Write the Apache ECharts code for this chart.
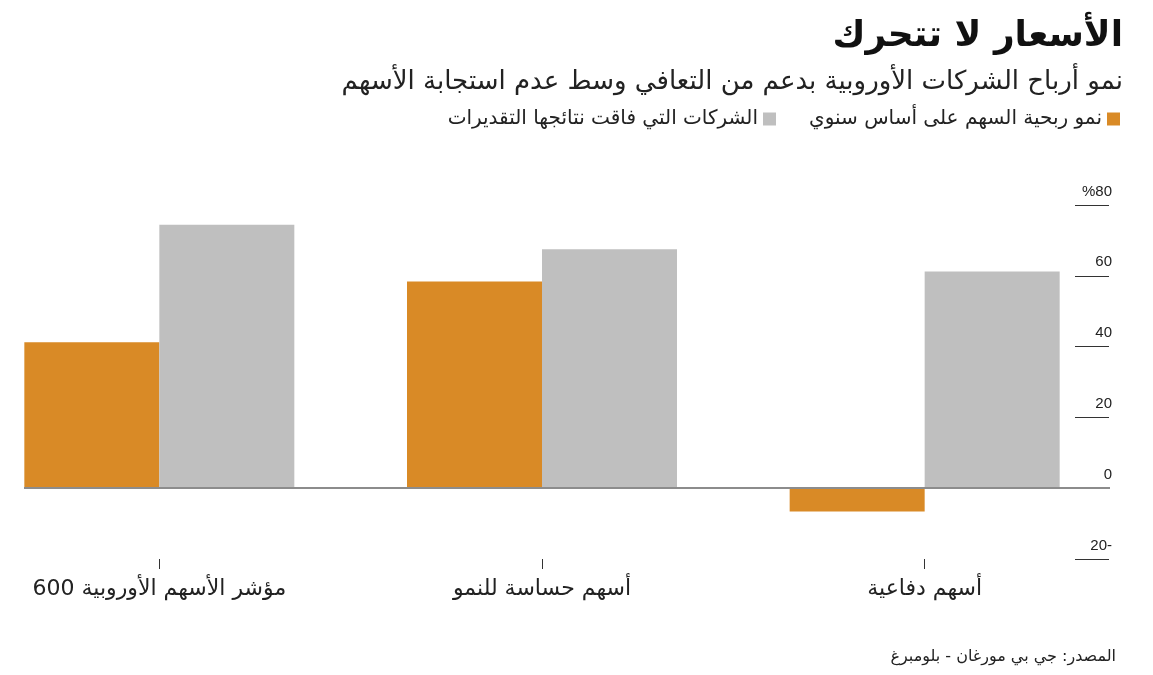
<!DOCTYPE html>
<html>
<head>
<meta charset="utf-8">
<script src="https://cdn.jsdelivr.net/npm/echarts@6/dist/echarts.min.js"></script>
<style>html,body{margin:0;padding:0;background:#fff;}#c{width:1153px;height:675px;}</style>
</head>
<body>
<div id="c"></div>
<script>
const titleText = 'الأسعار لا تتحرك';
const subtitleText = 'نمو أرباح الشركات الأوروبية بدعم من التعافي وسط عدم استجابة الأسهم';
const sourceText = 'المصدر: جي بي مورغان - بلومبرغ';
const categories = ['مؤشر الأسهم الأوروبية 600', 'أسهم حساسة للنمو', 'أسهم دفاعية'];
const seriesNames = ['نمو ربحية السهم على أساس سنوي', 'الشركات التي فاقت نتائجها التقديرات'];
const epsGrowth = [41.2, 58.4, -6.6];
const beatShare = [74.4, 67.5, 61.2];
const yTickValues = [-20, 0, 20, 40, 60, 80];
const yTickText = ['20-', '0', '20', '40', '60', '%80'];

const AR = "'DejaVu Sans', 'Noto Sans', sans-serif";
const NUM = "'Liberation Sans', Arial, sans-serif";
const ORANGE = '#D98A26';
const GRAY = '#BFBFBF';

const chart = echarts.init(document.getElementById('c'), null, {renderer: 'canvas'});
chart.setOption({
  animation: false,
  backgroundColor: '#fff',
  title: [
    {text: titleText, right: 25, top: 14, textStyle: {fontFamily: AR, fontSize: 36, fontWeight: 'bold', color: '#111'}},
    {text: subtitleText, right: 25, top: 64, textStyle: {fontFamily: AR, fontSize: 26, fontWeight: 'normal', color: '#222'}},
    {text: sourceText, right: 32, top: 644, textStyle: {fontFamily: AR, fontSize: 16, fontWeight: 'normal', color: '#222'}}
  ],
  legend: {
    data: [seriesNames[1], seriesNames[0]],
    right: 28, top: 104,
    align: 'right',
    icon: 'rect', itemWidth: 13, itemHeight: 13, itemGap: 33,
    textStyle: {fontFamily: AR, fontSize: 20, color: '#222'}
  },
  grid: {left: -32, right: 37, top: 205, bottom: 116, outerBoundsMode: 'none', containLabel: false},
  xAxis: {
    type: 'category',
    data: categories,
    axisLine: {show: false, onZero: false},
    axisTick: {show: true, alignWithLabel: true, length: 10, lineStyle: {color: '#333', width: 1}},
    axisLabel: {fontFamily: AR, fontSize: 22, color: '#222', margin: 19}
  },
  yAxis: {
    type: 'value', position: 'right', offset: -7,
    min: -20, max: 80, interval: 20,
    splitLine: {show: false},
    axisLine: {show: false},
    axisTick: {show: true, inside: true, length: 34, lineStyle: {color: '#333', width: 1}},
    axisLabel: {show: false}
  },
  series: [
    {
      name: seriesNames[0], type: 'bar', data: epsGrowth, barWidth: 135, barGap: '0%',
      itemStyle: {color: ORANGE},
      markLine: {
        silent: true, symbol: 'none', label: {show: false},
        lineStyle: {color: '#8c8c8c', width: 2, type: 'solid'},
        data: [[{x: 24, yAxis: 0}, {x: 1110, yAxis: 0}]]
      }
    },
    {
      name: seriesNames[1], type: 'bar', data: beatShare, barWidth: 135, barGap: '0%',
      itemStyle: {color: GRAY}
    }
  ]
});

// Y tick labels: each run (digits / sign) drawn as its own text, placed right-to-left by measured width,
// so the visual order is exactly as written (e.g. "20-", "%80"), independent of bidi handling.
const meas = document.createElement('canvas').getContext('2d');
meas.font = "15px 'Liberation Sans', Arial, sans-serif";
const labelRight = 1112;
const labelEls = [];
yTickValues.forEach((v, i) => {
  const y = chart.convertToPixel({yAxisIndex: 0}, v) - 6;
  const runs = yTickText[i].match(/\d+|\D+/g) || [yTickText[i]];
  let x = labelRight;
  for (let k = runs.length - 1; k >= 0; k--) {
    labelEls.push({
      type: 'text', x: x, y: y, silent: true, z: 10,
      style: {text: runs[k], align: 'right', verticalAlign: 'bottom', fontFamily: NUM, fontSize: 15, fill: '#222'}
    });
    x -= meas.measureText(runs[k]).width;
  }
});
chart.setOption({graphic: labelEls});
</script>
</body>
</html>
